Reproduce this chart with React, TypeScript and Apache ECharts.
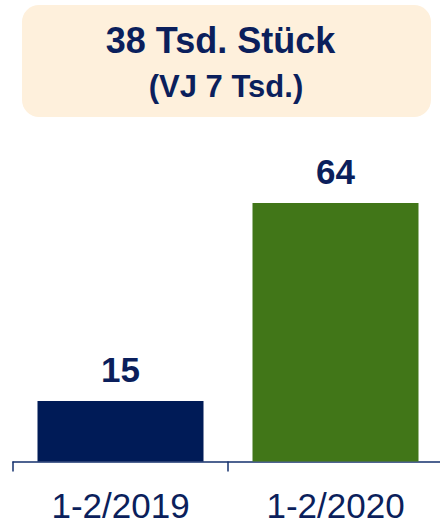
import React, { useEffect, useRef } from "react";
import * as echarts from "echarts";

const categories = ["1-2/2019", "1-2/2020"];
const values = [15, 64];
const barColors = ["#001B57", "#417618"];
const headline = "38 Tsd. Stück";
const subline = "(VJ 7 Tsd.)";

const FONT = "'Liberation Sans', Arial, sans-serif";
const NAVY = "#0B1F5C";

export default function App() {
  const ref = useRef<HTMLDivElement>(null);
  useEffect(() => {
    document.body.style.margin = "0";
    document.body.style.overflow = "hidden";
    if (!ref.current) return;
    const chart = echarts.init(ref.current, null, { renderer: "svg" });
    chart.setOption({
      animation: false,
      backgroundColor: "#ffffff",
      grid: {
        left: 13,
        right: 1,
        top: 203,
        bottom: 59.5,
        containLabel: false,
        outerBoundsMode: "none",
      },
      xAxis: {
        type: "category",
        data: categories,
        axisLine: { show: true, lineStyle: { color: "#14306E", width: 1.5 } },
        axisTick: { show: true, length: 10, lineStyle: { color: "#14306E", width: 1.5 } },
        axisLabel: {
          color: NAVY,
          fontSize: 35,
          lineHeight: 26,
          fontFamily: FONT,
          margin: 31,
        },
      },
      yAxis: {
        type: "value",
        min: 0,
        max: 64,
        show: false,
        splitLine: { show: false },
      },
      series: [
        {
          type: "bar",
          barWidth: 166,
          data: values.map((v, i) => ({ value: v, itemStyle: { color: barColors[i] } })),
          label: {
            show: true,
            position: "top",
            distance: 14,
            color: NAVY,
            fontSize: 35,
            fontWeight: "bold",
            fontFamily: FONT,
          },
        },
      ],
      graphic: [
        {
          type: "rect",
          shape: { x: 22, y: 5, width: 409, height: 112, r: 17 },
          style: { fill: "#FEF0DC" },
          z: 0,
        },
        {
          type: "text",
          x: 220.5,
          y: 40,
          style: {
            text: headline,
            fill: NAVY,
            font: `bold 36px ${FONT}`,
            textAlign: "center",
            textVerticalAlign: "middle",
          },
          z: 1,
        },
        {
          type: "text",
          x: 226,
          y: 86,
          style: {
            text: subline,
            fill: NAVY,
            font: `bold 31px ${FONT}`,
            textAlign: "center",
            textVerticalAlign: "middle",
          },
          z: 1,
        },
      ],
    });
    return () => chart.dispose();
  }, []);
  return (
    <div
      ref={ref}
      style={{ position: "fixed", left: 0, top: 0, width: 444, height: 521 }}
    />
  );
}
